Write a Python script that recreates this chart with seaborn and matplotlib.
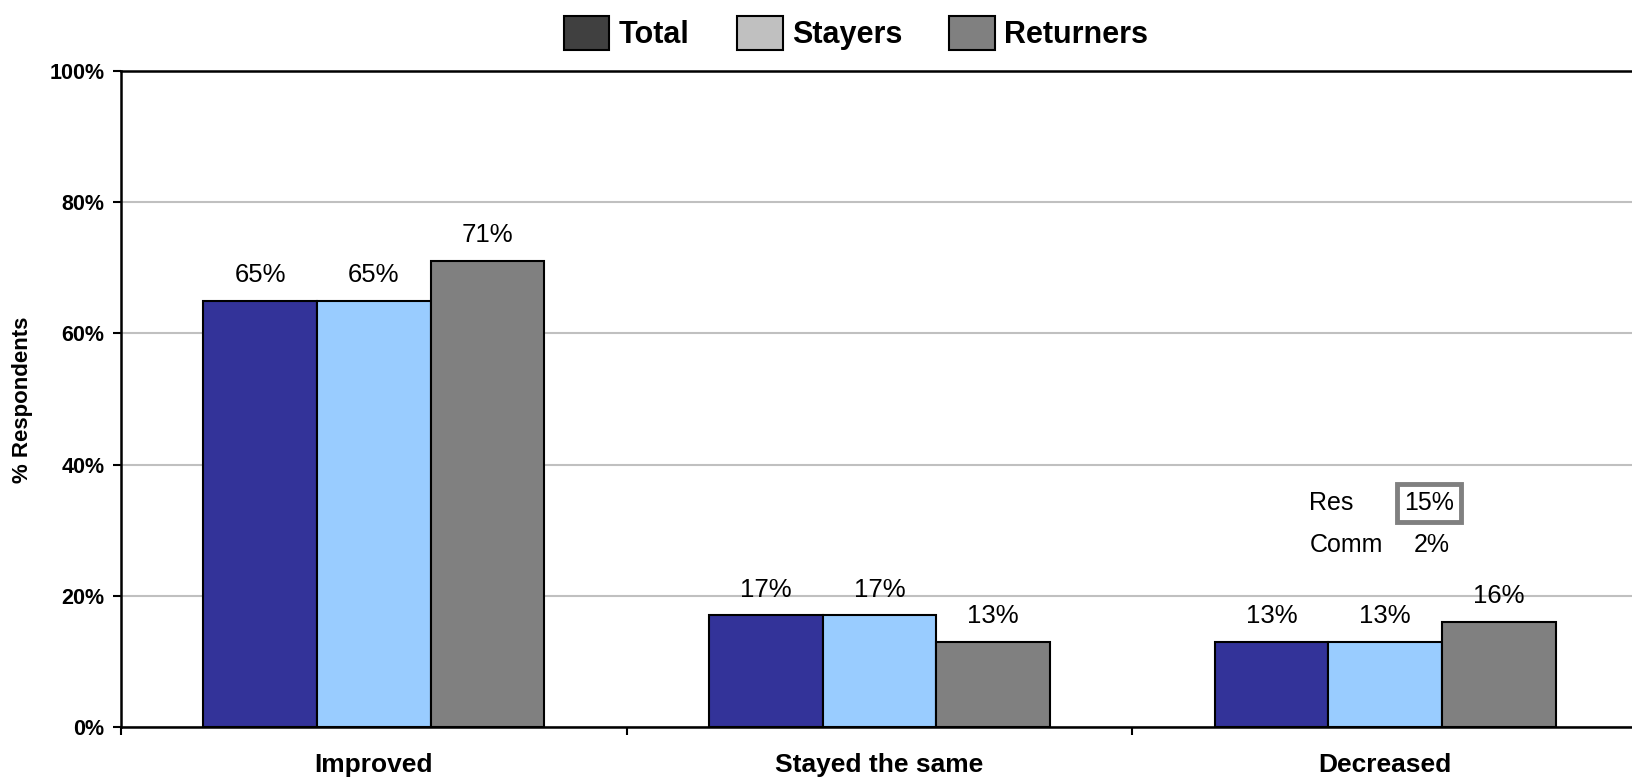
import matplotlib
matplotlib.use("Agg")
import matplotlib.pyplot as plt
from matplotlib.patches import Patch
import seaborn as sns
import pandas as pd

# Survey outcome shares (% of respondents)
categories = ["Improved", "Stayed the same", "Decreased"]
groups = ["Total", "Stayers", "Returners"]
total = [65, 17, 13]
stayers = [65, 17, 13]
returners = [71, 13, 16]

bar_colors = ["#333399", "#99CCFF", "#808080"]
legend_colors = ["#404040", "#C0C0C0", "#808080"]

# Breakdown note for the "Decreased" returners
note_labels = ["Res", "Comm"]
note_values = [15, 2]

yticks = [0, 20, 40, 60, 80, 100]
ytick_labels = ["0%", "20%", "40%", "60%", "80%", "100%"]

df = pd.DataFrame({
    "Outcome": categories * 3,
    "Group": [g for g in groups for _ in categories],
    "Percent": total + stayers + returners,
})

sns.set_theme(style="white")
plt.rcParams["font.family"] = ["Liberation Sans", "DejaVu Sans"]
plt.rcParams["text.color"] = "black"
plt.rcParams["xtick.color"] = "black"
plt.rcParams["ytick.color"] = "black"
plt.rcParams["axes.labelcolor"] = "black"

fig = plt.figure(figsize=(16.32, 7.8), dpi=100)
ax = fig.add_axes([121 / 1632, 1 - 727 / 780, (1638 - 121) / 1632, (727 - 71) / 780])

sns.barplot(data=df, x="Outcome", y="Percent", hue="Group", order=categories,
            hue_order=groups, palette=bar_colors, saturation=1, width=0.675,
            edgecolor="black", linewidth=1.5, legend=False, ax=ax, zorder=3)

for cont in ax.containers:
    ax.bar_label(cont, fmt="{:.0f}%", padding=10, fontsize=18.5, color="black", zorder=4)

ax.set_xlim(-0.5, 2.5)
ax.set_ylim(0, 100)
ax.set_yticks(yticks)
ax.set_yticklabels(ytick_labels, fontsize=15.5, fontweight="bold")
ax.set_xticks(range(len(categories)))
ax.set_xticklabels(categories, fontsize=19, fontweight="bold")
ax.set_xticks([-0.5, 0.5, 1.5, 2.5], minor=True)
ax.tick_params(axis="x", which="major", length=0, pad=19)
ax.tick_params(axis="x", which="minor", length=6, width=1.5, direction="out",
               color="black", bottom=True)
ax.tick_params(axis="y", length=6, width=1.5, direction="out", color="black",
               left=True, pad=6)
ax.set_xlabel("")
ax.set_ylabel("")

ax.yaxis.grid(True, color="#C0C0C0", linewidth=1.5, zorder=0)
ax.set_axisbelow(True)
for side in ["left", "bottom", "top"]:
    ax.spines[side].set_visible(True)
    ax.spines[side].set_color("black")
    ax.spines[side].set_linewidth(1.8)
ax.spines["right"].set_visible(False)

fig.text(23 / 1632, 0.487, "% Respondents", rotation=90, ha="center", va="center",
         fontsize=16, fontweight="bold", color="black")

# Res / Comm breakdown
ax.text(1.85, 34.1, note_labels[0], fontsize=18, ha="left", va="center")
ax.text(2.087, 34.1, f"{note_values[0]}%", fontsize=18, ha="center", va="center",
        bbox=dict(boxstyle="square,pad=0.28", facecolor="white",
                  edgecolor="#808080", linewidth=3.5))
ax.text(1.85, 27.7, note_labels[1], fontsize=18, ha="left", va="center")
ax.text(2.092, 27.7, f"{note_values[1]}%", fontsize=18, ha="center", va="center")

handles = [Patch(facecolor=c, edgecolor="black", linewidth=1.5) for c in legend_colors]
fig.legend(handles, groups, loc="center", bbox_to_anchor=(856 / 1632, 1 - 33 / 780),
           ncol=3, frameon=False, prop={"size": 22, "weight": "bold"},
           handlelength=1.5, handleheight=1.38, handletextpad=0.3,
           columnspacing=1.55, borderpad=0)

fig.savefig("out.png", dpi=100)
